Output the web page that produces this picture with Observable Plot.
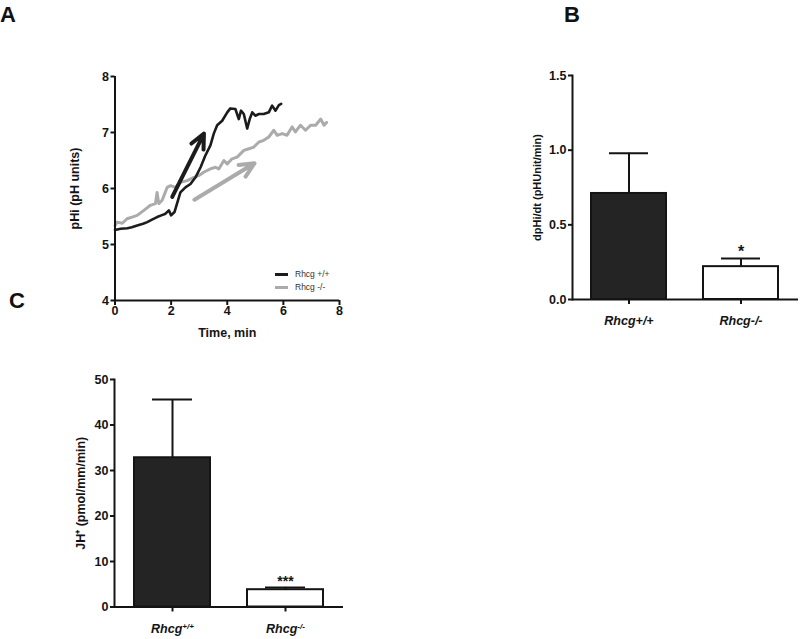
<!DOCTYPE html>
<html><head><meta charset="utf-8">
<script src="https://cdn.jsdelivr.net/npm/d3@7"></script>
<script src="https://cdn.jsdelivr.net/npm/@observablehq/plot@0.6"></script>
<style>
body{margin:0;background:#fff;}
#root{position:relative;width:800px;height:639px;overflow:hidden;background:#fff;font-family:"Liberation Sans",Arial,sans-serif;color:#111;}
.panel{position:absolute;}
.letter{position:absolute;font-weight:bold;font-size:22px;line-height:1;}
.lg{position:absolute;font-size:8.5px;line-height:1;color:#333;}
.sw{position:absolute;width:13px;height:3px;}
</style></head><body>
<div id="root"></div>
<script>
// ---- Panel A: pHi recovery traces ----
const timeWT = [0, 0.2, 0.44, 0.6, 0.79, 1.0, 1.15, 1.3, 1.5, 1.65, 1.8, 1.92, 2.0, 2.12, 2.21, 2.33, 2.51, 2.69, 2.87, 3.05, 3.22, 3.40, 3.52, 3.64, 3.82, 4.0, 4.11, 4.29, 4.41, 4.49, 4.59, 4.71, 4.80, 4.89, 5.0, 5.13, 5.3, 5.48, 5.6, 5.72, 5.84, 5.92];
const phWT   = [5.26, 5.28, 5.29, 5.31, 5.34, 5.37, 5.40, 5.44, 5.49, 5.52, 5.55, 5.61, 5.52, 5.58, 5.73, 5.93, 6.02, 6.08, 6.20, 6.38, 6.59, 6.77, 6.98, 7.13, 7.21, 7.36, 7.43, 7.42, 7.24, 7.39, 7.33, 7.07, 7.24, 7.36, 7.30, 7.33, 7.33, 7.36, 7.48, 7.39, 7.49, 7.51];
const timeKO = [0, 0.08, 0.26, 0.43, 0.61, 0.79, 1.03, 1.26, 1.44, 1.50, 1.56, 1.68, 1.86, 1.98, 2.16, 2.33, 2.57, 2.81, 2.99, 3.16, 3.40, 3.58, 3.70, 3.88, 4.0, 4.17, 4.35, 4.59, 4.77, 4.95, 5.13, 5.30, 5.48, 5.66, 5.78, 5.96, 6.13, 6.31, 6.43, 6.61, 6.79, 6.97, 7.15, 7.33, 7.45, 7.54];
const phKO   = [5.34, 5.40, 5.38, 5.46, 5.49, 5.52, 5.61, 5.70, 5.73, 5.93, 5.73, 5.79, 6.02, 6.05, 6.02, 6.11, 6.14, 6.20, 6.23, 6.29, 6.35, 6.38, 6.35, 6.50, 6.44, 6.53, 6.56, 6.68, 6.71, 6.74, 6.83, 6.86, 6.92, 7.04, 6.95, 6.98, 6.95, 7.10, 7.01, 7.13, 7.04, 7.13, 7.13, 7.24, 7.13, 7.18];
const arrowWT = {x1: 2.04, y1: 5.85, x2: 3.17, y2: 6.98};
const arrowKO = {x1: 2.83, y1: 5.80, x2: 4.97, y2: 6.45};
const legendLabels = ["Rhcg +/+", "Rhcg -/-"];
const timeTicks = [0, 2, 4, 6, 8];
const phTicks = [4, 5, 6, 7, 8];

// ---- Panels B and C: bar charts ----
const genotypes = ["Rhcg+/+", "Rhcg-/-"];
const dpHdt = [0.71, 0.22];
const dpHdtSEM = [0.27, 0.055];
const dpHdtSig = ["", "*"];
const dpHdtTicks = [0, 0.5, 1.0, 1.5];
const jH = [32.8, 3.8];
const jHSEM = [12.8, 0.5];
const jHSig = ["", "***"];
const jHTicks = [0, 10, 20, 30, 40, 50];
const barFills = ["#242424", "#ffffff"];

const INK = "#141414";
const GRAY = "#ababab";
const FONT = '"Liberation Sans", Arial, sans-serif';
const root = document.getElementById("root");

function place(el, left, top) {
  el.classList.add("panel");
  el.style.left = left + "px";
  el.style.top = top + "px";
  root.appendChild(el);
  return el;
}
function baseStyle() {
  return {fontFamily: FONT, fontWeight: "bold", fontSize: "12.5px", color: INK, background: "transparent", overflow: "visible"};
}

// Panel A
const wt = timeWT.map((t, i) => ({t, ph: phWT[i]}));
const ko = timeKO.map((t, i) => ({t, ph: phKO[i]}));
const plotA = Plot.plot({
  width: 360, height: 345,
  marginLeft: 114.5, marginRight: 21, marginTop: 76, marginBottom: 45,
  style: baseStyle(),
  x: {domain: [0, 8]},
  y: {domain: [4, 8]},
  marks: [
    Plot.axisX({ticks: timeTicks, tickFormat: d3.format("d"), tickSize: 5, tickPadding: 1, strokeWidth: 2, stroke: INK,
      label: "Time, min", labelAnchor: "center", labelOffset: 36, labelArrow: "none"}),
    Plot.axisY({ticks: phTicks, tickFormat: d3.format("d"), tickSize: 4, tickPadding: 2, strokeWidth: 2, stroke: INK,
      label: "pHi (pH units)", labelAnchor: "center", labelOffset: 45, labelArrow: "none"}),
    Plot.line(ko, {x: "t", y: "ph", stroke: GRAY, strokeWidth: 3}),
    Plot.line(wt, {x: "t", y: "ph", stroke: "#1c1c1c", strokeWidth: 2.6}),
    Plot.arrow([arrowKO], {x1: "x1", y1: "y1", x2: "x2", y2: "y2", stroke: GRAY, strokeWidth: 4, headLength: 6, headAngle: 50}),
    Plot.arrow([arrowWT], {x1: "x1", y1: "y1", x2: "x2", y2: "y2", stroke: "#1c1c1c", strokeWidth: 4, headLength: 6, headAngle: 50}),
    Plot.ruleX([0], {stroke: INK, strokeWidth: 2}),
    Plot.ruleY([4], {stroke: INK, strokeWidth: 2})
  ]
});
place(plotA, 0, 0);

function barPlot({values, sems, sigs, ticks, fmt, label, labelOffset, width, height, margins, sigSize}) {
  const data = genotypes.map((g, i) => ({g, v: values[i], e: sems[i], s: sigs[i], f: barFills[i]}));
  const ymax = ticks[ticks.length - 1];
  return Plot.plot({
    width, height, ...margins,
    style: baseStyle(),
    x: {domain: genotypes, paddingInner: 0.33, paddingOuter: 0.17},
    y: {domain: [0, ymax]},
    color: {type: "identity"},
    marks: [
      Plot.barY(data, {x: "g", y: "v", fill: "f", stroke: INK, strokeWidth: 2}),
      Plot.ruleX(data, {x: "g", y1: "v", y2: d => d.v + d.e, stroke: INK, strokeWidth: 2}),
      Plot.tickY(data, {x: "g", y: d => d.v + d.e, stroke: INK, strokeWidth: 2, insetLeft: 18, insetRight: 18}),
      Plot.text(data, {x: "g", y: d => d.v + d.e, text: "s", lineAnchor: "bottom", dy: -1, fontSize: sigSize, fill: INK}),
      Plot.axisX({tickSize: 5, tickPadding: 12, strokeWidth: 2, stroke: INK, label: null}),
      Plot.axisY({ticks, tickFormat: fmt, tickSize: 4, tickPadding: 2, strokeWidth: 2, stroke: INK,
        label, labelAnchor: "center", labelOffset, labelArrow: "none"}),
      Plot.ruleY([0], {stroke: INK, strokeWidth: 2}),
      Plot.frame({anchor: "left", stroke: INK, strokeWidth: 2})
    ]
  });
}

// Panel B
const plotB = barPlot({
  values: dpHdt, sems: dpHdtSEM, sigs: dpHdtSig, ticks: dpHdtTicks, fmt: d3.format(".1f"),
  label: "dpHi/dt (pHUnit/min)", labelOffset: 39, width: 360, height: 340,
  margins: {marginLeft: 132, marginRight: 2, marginTop: 75, marginBottom: 41}, sigSize: 16
});
place(plotB, 440, 0);
d3.select(plotB).selectAll('g[aria-label="x-axis tick label"] text').attr("font-style", "italic");
d3.select(plotB).selectAll('g[aria-label="y-axis label"] text').attr("font-size", 11);

// Panel C
const plotC = barPlot({
  values: jH, sems: jHSEM, sigs: jHSig, ticks: jHTicks, fmt: d3.format("d"),
  label: "JH\u207A (pmol/mm/min)", labelOffset: 38, width: 360, height: 294,
  margins: {marginLeft: 114, marginRight: 17, marginTop: 34, marginBottom: 32.5}, sigSize: 14
});
place(plotC, 0, 345);
d3.select(plotC).selectAll('g[aria-label="x-axis tick label"] text').each(function() {
  const t = d3.select(this);
  const s = t.text();
  const base = s.slice(0, 4), sup = s.slice(4);
  t.text(null).attr("font-style", "italic");
  t.append("tspan").text(base);
  t.append("tspan").attr("dy", "-0.45em").attr("font-size", 8).text(sup);
});
d3.select(plotC).selectAll('g[aria-label="y-axis label"] text').attr("font-size", 12.5);

// Panel letters
[["A", 0, 4], ["B", 564, 4], ["C", 9, 290]].forEach(([t, x, y]) => {
  const d = document.createElement("div");
  d.className = "letter"; d.textContent = t;
  d.style.left = x + "px"; d.style.top = y + "px";
  root.appendChild(d);
});

// Legend for panel A
[[legendLabels[0], "#1c1c1c", 274], [legendLabels[1], GRAY, 287]].forEach(([t, c, y]) => {
  const s = document.createElement("div");
  s.className = "sw"; s.style.background = c; s.style.left = "275px"; s.style.top = (y - 1) + "px";
  root.appendChild(s);
  const l = document.createElement("div");
  l.className = "lg"; l.textContent = t; l.style.left = "295px"; l.style.top = (y - 4) + "px";
  root.appendChild(l);
});
</script>
</body></html>
